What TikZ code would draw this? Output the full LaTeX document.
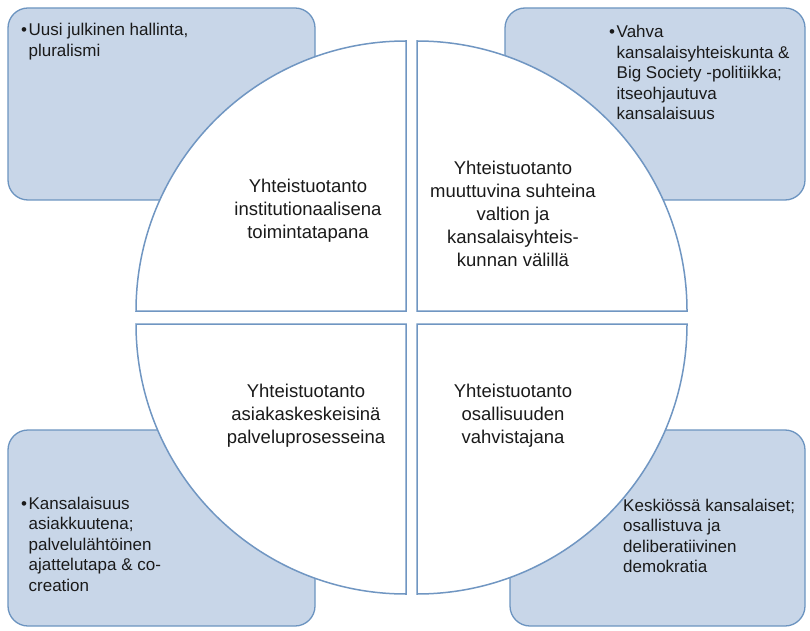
\documentclass[tikz,border=0pt]{standalone}
\usepackage{fontspec}
\setmainfont{Liberation Sans}
\definecolor{boxfill}{RGB}{200,214,232}
\definecolor{boxline}{RGB}{108,148,192}
\definecolor{quadline}{RGB}{112,150,194}
\definecolor{textcol}{RGB}{26,26,26}
\begin{document}
\begin{tikzpicture}[x=1pt,y=1pt]
\useasboundingbox (0,0) rectangle (810,630);
\tikzset{
  sidebox/.style={draw=boxline, fill=boxfill, line width=1.3pt, rounded corners=20pt, inner sep=0pt},
  quad/.style={draw=quadline, fill=white, line width=1.5pt, line join=miter},
  quadtext/.style={align=center, font=\fontsize{18.5}{23}\selectfont, text=textcol, inner sep=0pt},
  boxtext/.style={font=\fontsize{17}{20.5}\selectfont, text=textcol, inner sep=0pt, anchor=base west},
}
% corner boxes
\node[sidebox, minimum width=307pt, minimum height=192pt] (tlbox) at (161.5,526) {};
\node[sidebox, minimum width=300pt, minimum height=192pt] (trbox) at (655,526) {};
\node[sidebox, minimum width=307pt, minimum height=196pt] (blbox) at (161.5,102) {};
\node[sidebox, minimum width=295pt, minimum height=196pt] (brbox) at (657.5,102) {};
% quadrants
\draw[quad] (406,319) -- ++(-270,0) arc[start angle=180, end angle=90, radius=270pt] -- cycle;
\draw[quad] (417,319) -- ++(0,270) arc[start angle=90, end angle=0, radius=270pt] -- cycle;
\draw[quad] (406,306) -- ++(0,-270) arc[start angle=270, end angle=180, radius=270pt] -- cycle;
\draw[quad] (417,306) -- ++(270,0) arc[start angle=0, end angle=-90, radius=270pt] -- cycle;
% quadrant texts
\node[quadtext] (tlq) at (308,419) {Yhteistuotanto\\institutionaalisena\\toimintatapana};
\node[quadtext] (trq) at (513,416) {Yhteistuotanto\\muuttuvina suhteina\\valtion ja\\kansalaisyhteis-\\kunnan välillä};
\node[quadtext] (blq) at (306,214) {Yhteistuotanto\\asiakaskeskeisinä\\palveluprosesseina};
\node[quadtext] (brq) at (513,214) {Yhteistuotanto\\osallisuuden\\vahvistajana};
% box texts
\node[boxtext] (tlt) at (21,594) {\textbullet\hspace{1.5pt}\begin{tabular}[t]{@{}l@{}}Uusi julkinen hallinta,\\pluralismi\end{tabular}};
\node[boxtext] (trt) at (609,592) {\textbullet\hspace{1.5pt}\begin{tabular}[t]{@{}l@{}}Vahva\\kansalaisyhteiskunta \&\\Big Society -politiikka;\\itseohjautuva\\kansalaisuus\end{tabular}};
\node[boxtext] (blt) at (21,121) {\textbullet\hspace{1.5pt}\begin{tabular}[t]{@{}l@{}}Kansalaisuus\\asiakkuutena;\\palvelulähtöinen\\ajattelutapa \& co-\\creation\end{tabular}};
\node[boxtext] (brt) at (623,119) {\begin{tabular}[t]{@{}l@{}}Keskiössä kansalaiset;\\osallistuva ja\\deliberatiivinen\\demokratia\end{tabular}};
\end{tikzpicture}
\end{document}
